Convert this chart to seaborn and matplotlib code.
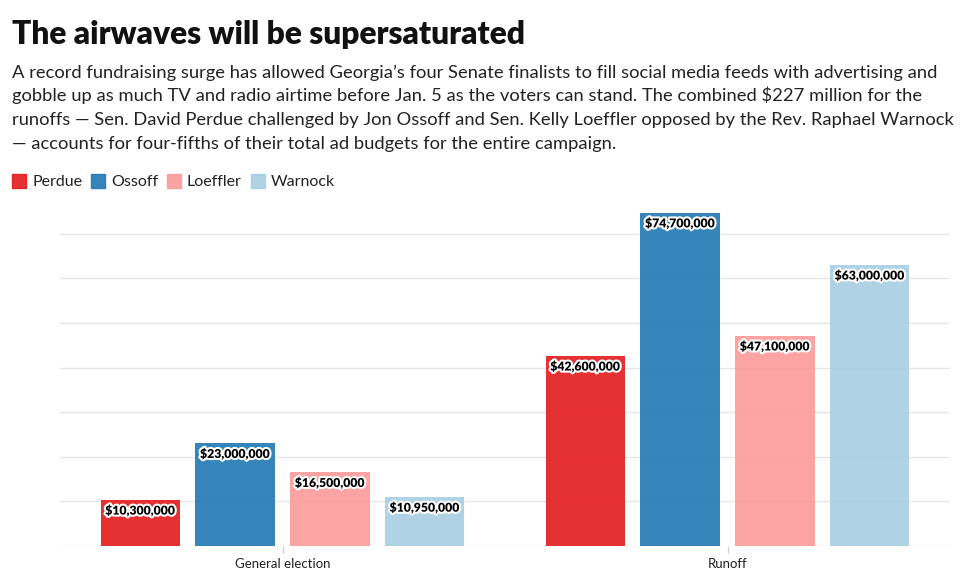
import matplotlib
matplotlib.use("Agg")
import matplotlib.pyplot as plt
import matplotlib.patheffects as pe
from matplotlib.lines import Line2D
import seaborn as sns
import pandas as pd

# ---- data ----
categories = ["General election", "Runoff"]
candidates = ["Perdue", "Ossoff", "Loeffler", "Warnock"]
general_values = [10300000, 23000000, 16500000, 10950000]
runoff_values = [42600000, 74700000, 47100000, 63000000]
colors = ["#e41a1c", "#1f78b4", "#fb9a99", "#a6cee3"]

title = "The airwaves will be supersaturated"
subtitle_lines = [
    "A record fundraising surge has allowed Georgia\u2019s four Senate finalists to fill social media feeds with advertising and",
    "gobble up as much TV and radio airtime before Jan. 5 as the voters can stand. The combined $227 million for the",
    "runoffs \u2014 Sen. David Perdue challenged by Jon Ossoff and Sen. Kelly Loeffler opposed by the Rev. Raphael Warnock",
    "\u2014 accounts for four-fifths of their total ad budgets for the entire campaign.",
]

rows = []
for c, v in zip(candidates, general_values):
    rows.append({"stage": categories[0], "candidate": c, "value": v})
for c, v in zip(candidates, runoff_values):
    rows.append({"stage": categories[1], "candidate": c, "value": v})
df = pd.DataFrame(rows)

sns.set_theme(style="white")
plt.rcParams["font.family"] = ["Lato", "DejaVu Sans"]

W, H = 980, 586
fig = plt.figure(figsize=(W / 100, H / 100), dpi=100)
ax = fig.add_axes([60 / W, 1 - 546 / H, 890 / W, (546 - 180) / H])

sns.barplot(data=df, x="stage", y="value", hue="candidate", order=categories,
            hue_order=candidates, palette=colors, width=0.852, gap=0.16,
            alpha=0.9, ax=ax, legend=False, saturation=1,
            edgecolor="none", linewidth=0)

ax.set_xlim(-0.5, 1.5)
ymax_px = (546 - 180) / 4.46
ax.set_ylim(0, ymax_px * 1e6)
ax.set_yticks([i * 1e7 for i in range(0, 8)])
ax.set_yticklabels([])
ax.tick_params(axis="y", length=0)
ax.grid(axis="y", color="#e6e6e6", linewidth=1)
ax.set_axisbelow(True)
for s in ax.spines.values():
    s.set_visible(False)
ax.set_xlabel("")
ax.set_ylabel("")
ax.tick_params(axis="x", length=5, color="#d0d0d0", width=1, pad=4,
               labelsize=9.5, labelcolor="#222222", bottom=True)

for cont in ax.containers:
    for bar in cont:
        h = bar.get_height()
        ax.annotate(f"${h:,.0f}", (bar.get_x() + bar.get_width() / 2, h),
                    xytext=(0, -4), textcoords="offset points",
                    ha="center", va="top", fontsize=8.8, fontweight="heavy",
                    color="black",
                    path_effects=[pe.withStroke(linewidth=3, foreground="white")])

fig.text(12 / W, 1 - 44 / H, title, fontsize=22.9, fontweight="heavy",
         color="#111111", ha="left", va="baseline")
for i, line in enumerate(subtitle_lines):
    fig.text(12 / W, 1 - (78 + i * 23.5) / H, line, fontsize=13.2,
             color="#222222", ha="left", va="baseline")

handles = [Line2D([0], [0], marker="s", linestyle="none", markersize=10.5,
                  markerfacecolor=c, markeredgecolor=c, alpha=0.9) for c in colors]
fig.legend(handles, candidates, loc="center left",
           bbox_to_anchor=(-3 / W, 1 - 182 / H), ncol=4, frameon=False,
           fontsize=11.5, handlelength=1.0, handletextpad=0.3,
           columnspacing=0.5, labelcolor="#222222")

fig.savefig("out.png", dpi=100)
